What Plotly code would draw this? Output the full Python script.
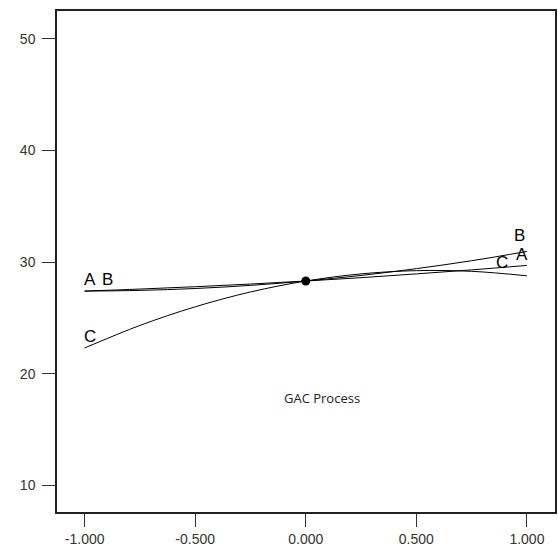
import plotly.graph_objects as go

# Perturbation plot data (coded deviation from reference point)
x_dev = [-1.0, -0.75, -0.5, -0.25, 0.0, 0.25, 0.5, 0.75, 1.0]
series_A = [27.4, 27.58, 27.79, 28.03, 28.3, 28.6, 28.94, 29.3, 29.7]
series_B = [27.4, 27.46, 27.63, 27.91, 28.3, 28.8, 29.41, 30.12, 30.95]
series_C = [22.3, 24.32, 25.99, 27.32, 28.3, 28.94, 29.23, 29.17, 28.77]
center_x = [0.0]
center_y = [28.3]
x_ticks = [-1.0, -0.5, 0.0, 0.5, 1.0]
x_tick_text = ["-1.000", "-0.500", "0.000", "0.500", "1.000"]
y_ticks = [10, 20, 30, 40, 50]
process_label = "GAC Process"
process_pos = (0.075, 17.8)

fig = go.Figure()
for ys in (series_A, series_B, series_C):
    fig.add_trace(go.Scatter(x=x_dev, y=ys, mode="lines", line=dict(color="black", width=1, shape="spline"),
                             showlegend=False, hoverinfo="skip"))
fig.add_trace(go.Scatter(x=center_x, y=center_y, mode="markers", marker=dict(color="black", size=9),
                         showlegend=False))

lab_font = dict(family="Liberation Sans, Arial", size=17, color="black")
labels = [
    ("A", x_dev[0], series_A[0], 5, 12),
    ("B", x_dev[0], series_B[0], 23, 12),
    ("C", x_dev[0], series_C[0], 5, 11),
    ("B", x_dev[-1], series_B[-1], -7, 16),
    ("A", x_dev[-1], series_A[-1], -5, 11),
    ("C", x_dev[-1], series_C[-1], -25, 13),
]
for t, xx, yy, dx, dy in labels:
    fig.add_annotation(x=xx, y=yy, text=t, showarrow=False, xshift=dx, yshift=dy, font=lab_font)

fig.add_annotation(x=process_pos[0], y=process_pos[1], text=process_label, showarrow=False,
                   font=dict(family="Open Sans", size=13, color="#222"))

axis_common = dict(showline=True, linecolor="#222", linewidth=1.5, mirror=True, ticks="outside",
                   ticklen=13, tickcolor="#333", tickwidth=1.2, showgrid=False, zeroline=False,
                   tickfont=dict(family="Liberation Sans, Arial", size=14, color="#333"))
fig.update_xaxes(range=[-1.125, 1.127], tickvals=x_ticks, ticktext=x_tick_text, **axis_common)
fig.update_yaxes(range=[7.6, 52.5], tickvals=y_ticks, ticklabelstandoff=4, **axis_common)

fig.update_layout(width=558, height=552, margin=dict(l=57, r=1, t=11, b=40),
                  plot_bgcolor="white", paper_bgcolor="white")
fig.write_html("out.html")
